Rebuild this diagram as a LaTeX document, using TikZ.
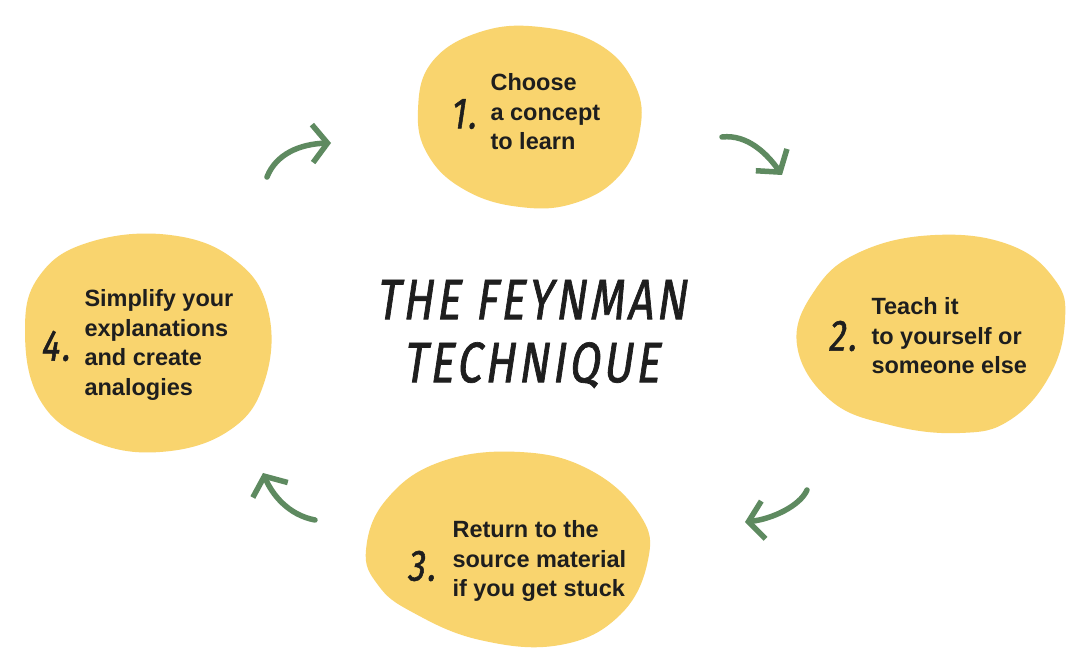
\documentclass[tikz,border=0pt]{standalone}
\usepackage{fontspec}
\setmainfont{Liberation Sans}
\newfontfamily\handfont[FakeSlant=0.15,FakeStretch=0.78,FakeBold=1.2,LetterSpace=6]{Fira Sans}
\usetikzlibrary{arrows.meta}

\definecolor{blobyellow}{RGB}{249,212,110}
\definecolor{arrowgreen}{RGB}{94,138,96}
\definecolor{inkblack}{RGB}{30,30,30}

\begin{document}
\begin{tikzpicture}[
  x=1pt, y=-1pt,
  blob/.style={fill=blobyellow},
  steptext/.style={anchor=west, align=left, text=inkblack, font=\fontsize{23.5}{29.5}\selectfont\bfseries},
  stepnum/.style={text=inkblack, font=\fontsize{44}{44}\selectfont\handfont},
  arr/.style={draw=arrowgreen, line width=5.5pt, line cap=round, -{Straight Barb[length=15pt,width=38pt]}}
]
\useasboundingbox[fill=white] (0,0) rectangle (1080,668);

% the four blobs
\path[blob] plot[smooth cycle, tension=0.7] coordinates {(418,110) (432,62) (480,32) (540,27) (600,45) (635,85) (640,130) (620,175) (575,203) (520,207) (465,190) (428,155)};
\path[blob] plot[smooth cycle, tension=0.7] coordinates {(797,345) (815,290) (860,252) (935,235) (1010,245) (1055,280) (1065,320) (1050,375) (1010,420) (960,433) (890,425) (830,400)};
\path[blob] plot[smooth cycle, tension=0.7] coordinates {(366,550) (386,500) (440,462) (520,452) (590,470) (640,515) (648,560) (620,615) (560,645) (480,640) (412,612) (378,585)};
\path[blob] plot[smooth cycle, tension=0.7] coordinates {(25,330) (40,275) (90,242) (170,235) (235,260) (268,310) (265,380) (230,430) (160,452) (90,440) (40,400)};

\node[align=center, text=inkblack, font=\fontsize{57}{63}\selectfont\handfont] (title) at (531,334) {THE FEYNMAN\\TECHNIQUE};

\node[stepnum] (num1) at (463,114) {1.};
\node[steptext] (text1) at (487,112) {Choose\\a concept\\to learn};
\node[stepnum] (num2) at (842,336) {2.};
\node[steptext] (text2) at (868,336) {Teach it\\to yourself or\\someone else};
\node[stepnum] (num3) at (421,566) {3.};
\node[steptext] (text3) at (449,561) {Return to the\\source material\\if you get stuck};
\node[stepnum] (num4) at (55,346) {4.};
\node[steptext] (text4) at (81,345) {Simplify your\\explanations\\and create\\analogies};

% arrow ends
\coordinate (a1s) at (267,177);
\coordinate (a1e) at (331,143);
\coordinate (a2s) at (722,137);
\coordinate (a2e) at (782,175);
\coordinate (a3s) at (807,490);
\coordinate (a3e) at (745,522);
\coordinate (a4s) at (315,520);
\coordinate (a4e) at (263,473);

\draw[arr] (a1s) .. controls (276,154) and (300,144) .. (a1e);
\draw[arr] (a2s) .. controls (748,134) and (768,155) .. (a2e);
\draw[arr] (a3s) .. controls (800,506) and (772,519) .. (a3e);
\draw[arr] (a4s) .. controls (288,515) and (272,494) .. (a4e);
\end{tikzpicture}
\end{document}
